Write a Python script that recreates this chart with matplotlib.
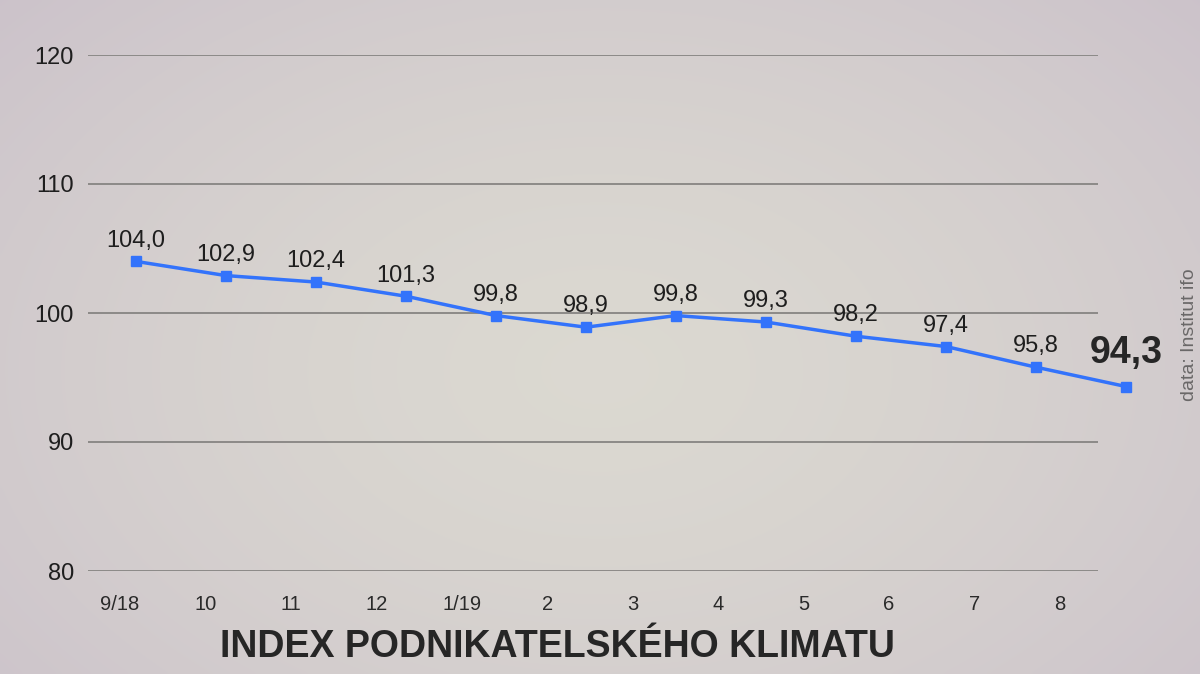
import matplotlib.pyplot as plt
import numpy as np

months = ["9/18", "10", "11", "12", "1/19", "2", "3", "4", "5", "6", "7", "8"]
index_vals = [104.0, 102.9, 102.4, 101.3, 99.8, 98.9, 99.8, 99.3, 98.2, 97.4, 95.8, 94.3]
y_ticks = [80, 90, 100, 110, 120]
title = "INDEX PODNIKATELSKÉHO KLIMATU"
source = "data: Institut ifo"

plt.rcParams['font.family'] = ['Liberation Sans', 'DejaVu Sans']

fig = plt.figure(figsize=(12, 6.74), dpi=100)

# background gradient
bg = fig.add_axes([0, 0, 1, 1], zorder=-10)
yy, xx = np.mgrid[0:1:200j, 0:1:360j]
r = np.sqrt(((xx - 0.5) / 0.75) ** 2 + ((yy - 0.55) / 0.9) ** 2)
c_in = np.array([0.86, 0.85, 0.82])
c_out = np.array([0.79, 0.75, 0.79])
t = np.clip(r, 0, 1)[..., None] ** 1.5
img = c_in * (1 - t) + c_out * t
bg.imshow(img, aspect='auto', extent=[0, 1, 0, 1], interpolation='bicubic')
bg.axis('off')

ax = fig.add_axes([88 / 1200, 1 - 571 / 674, 1010 / 1200, 516 / 674])
ax.patch.set_alpha(0)
x = np.arange(len(months))
ax.set_xlim(-0.533, 10.689)
ax.set_ylim(80, 120)
for v in y_ticks:
    ax.axhline(v, color='#8c8a88', lw=1.4, zorder=1)
ax.plot(x, index_vals, color='#3373fb', lw=2.5, marker='s', ms=7, clip_on=False, zorder=3)

for i, v in enumerate(index_vals):
    lbl = f"{v:.1f}".replace(".", ",")
    if i == len(index_vals) - 1:
        ax.annotate(lbl, (i, v), xytext=(0, 11), textcoords='offset points', ha='center', va='bottom',
                    fontsize=27, fontweight='bold', color='#262626', annotation_clip=False)
    else:
        ax.annotate(lbl, (i, v), xytext=(0, 7), textcoords='offset points', ha='center', va='bottom',
                    fontsize=17, color='#1e1e1e', annotation_clip=False)

ax.set_yticks(y_ticks)
ax.set_yticklabels([str(v) for v in y_ticks], fontsize=17, color='#1e1e1e')
ax.tick_params(axis='y', length=0, pad=10)
ax.set_xticks([])
for s in ax.spines.values():
    s.set_visible(False)

# month labels sit on their own scale
ax2 = ax.twiny()
ax2.set_xlim(-0.3745, 11.445)
ax2.xaxis.set_ticks_position('bottom')
ax2.set_xticks(x)
ax2.set_xticklabels(months, fontsize=14.5, color='#2a2a2a')
ax2.tick_params(axis='x', length=0, pad=17)
for s in ax2.spines.values():
    s.set_visible(False)

fig.text(557 / 1200, 1 - 647 / 674, title, ha='center', va='center', fontsize=27, fontweight='bold',
         color='#262626', family=['Liberation Sans Narrow', 'Liberation Sans', 'DejaVu Sans'])
fig.text(1189 / 1200, 1 - 335 / 674, source, rotation=90, ha='center', va='center', fontsize=14,
         color='#6a6868')

fig.savefig("out.png", dpi=100)
